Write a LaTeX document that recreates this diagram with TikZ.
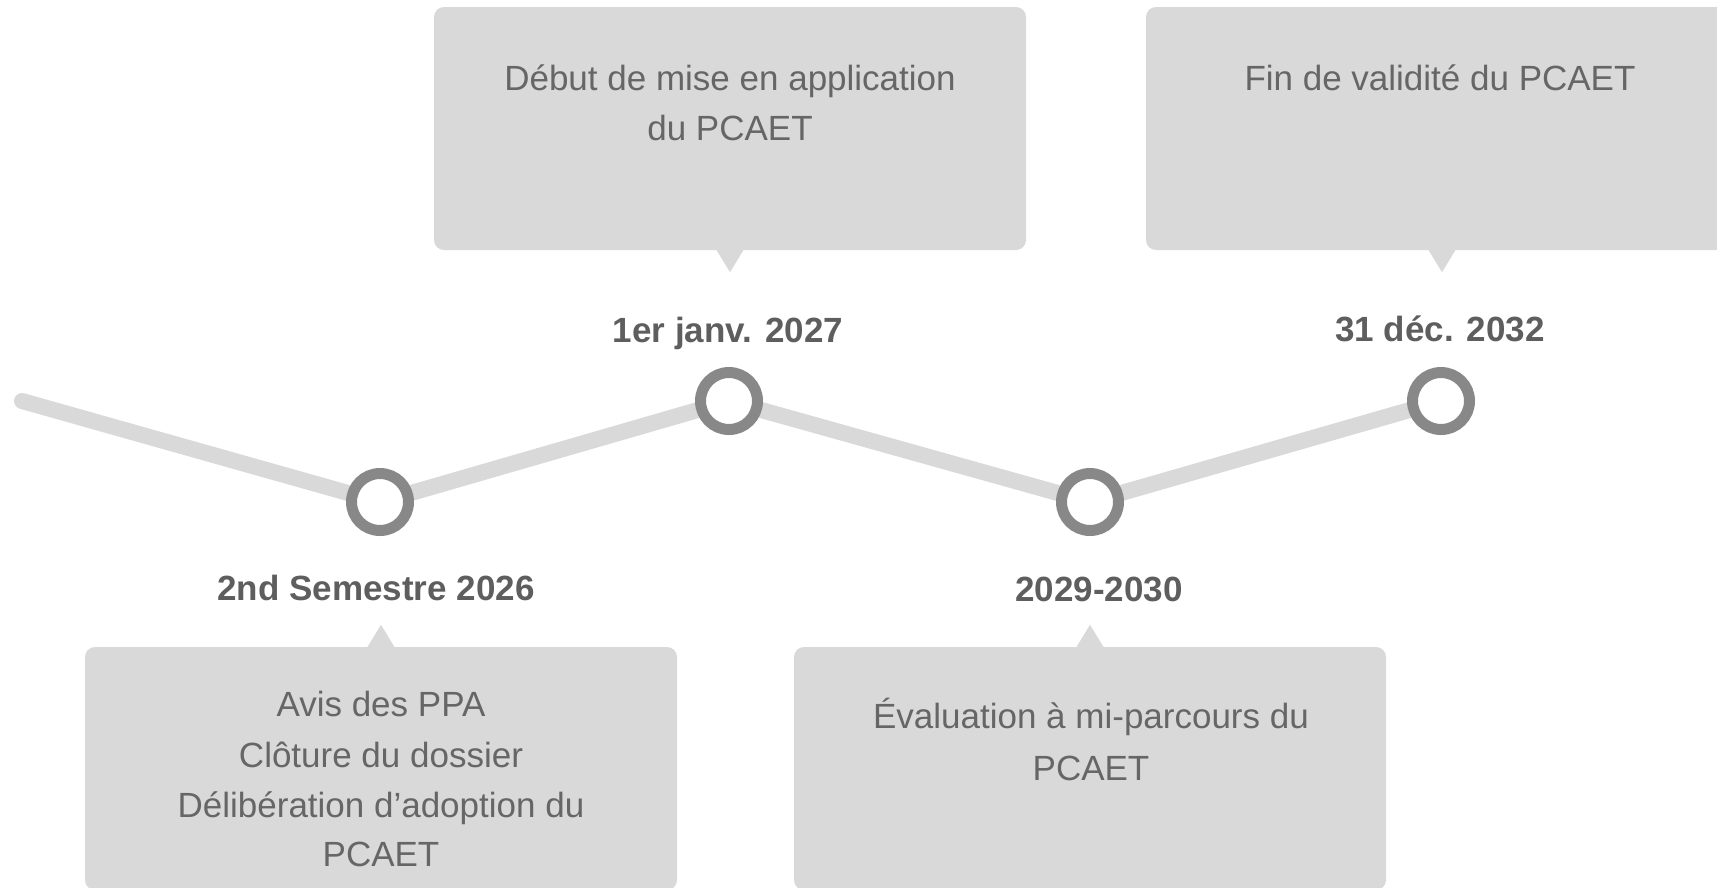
\documentclass[tikz,border=0pt]{standalone}
\usepackage{fontspec}
\setmainfont{Liberation Sans}
\usetikzlibrary{backgrounds}
\definecolor{boxgray}{HTML}{D9D9D9}
\definecolor{linegray}{HTML}{D9D9D9}
\definecolor{ringgray}{HTML}{888888}
\definecolor{txtgray}{HTML}{666666}
\definecolor{lblgray}{HTML}{5E5E5E}
\tikzset{
  box/.style={rectangle, rounded corners=10pt, fill=boxgray, inner sep=0pt, minimum width=592pt, minimum height=243pt},
  ptr/.style={fill=boxgray},
  ring/.style={circle, draw=ringgray, line width=11pt, fill=white, minimum size=57pt, inner sep=0pt},
  track/.style={draw=linegray, line width=16pt, line cap=round, line join=round},
  txt/.style={font=\fontsize{35pt}{50pt}\selectfont, text=txtgray, anchor=base, inner sep=0pt},
  lbl/.style={font=\fontsize{35pt}{42pt}\selectfont\bfseries, text=lblgray, anchor=base, inner sep=0pt}
}
\begin{document}
\begin{tikzpicture}[x=1pt,y=-1pt]
\useasboundingbox (0,0) rectangle (1717,887);
\clip (0,0) rectangle (1717,887);

% milestone rings
\coordinate (s) at (22,401);
\node[ring] (c1) at (380,502) {};
\node[ring] (c2) at (729,401) {};
\node[ring] (c3) at (1090,502) {};
\node[ring] (c4) at (1441,401) {};

\begin{scope}[on background layer]
\fill[white] (0,0) rectangle (1717,887);
\draw[track] (s) -- (c1.center) -- (c2.center) -- (c3.center) -- (c4.center);
\end{scope}

% boxes
\node[box] (b1) at (730,128.5) {};
\node[box] (b2) at (1442,128.5) {};
\node[box] (b3) at (381,768.5) {};
\node[box] (b4) at (1090,768.5) {};

\fill[ptr] ([xshift=-14pt,yshift=1pt]b1.south) -- ([xshift=14pt,yshift=1pt]b1.south) -- ([yshift=-22pt]b1.south) -- cycle;
\fill[ptr] ([xshift=-14pt,yshift=1pt]b2.south) -- ([xshift=14pt,yshift=1pt]b2.south) -- ([yshift=-22pt]b2.south) -- cycle;
\fill[ptr] ([xshift=-14pt,yshift=-1pt]b3.north) -- ([xshift=14pt,yshift=-1pt]b3.north) -- ([yshift=22pt]b3.north) -- cycle;
\fill[ptr] ([xshift=-14pt,yshift=-1pt]b4.north) -- ([xshift=14pt,yshift=-1pt]b4.north) -- ([yshift=22pt]b4.north) -- cycle;

% box texts
\node[txt] (t1a) at (730,90) {Début de mise en application};
\node[txt] (t1b) at (730,140) {du PCAET};
\node[txt] (t2a) at (1440,90) {Fin de validité du PCAET};
\node[txt] (t3a) at (381,716) {Avis des PPA};
\node[txt] (t3b) at (381,767) {Clôture du dossier};
\node[txt] (t3c) at (381,817) {Délibération d’adoption du};
\node[txt] (t3d) at (381,866) {PCAET};
\node[txt] (t4a) at (1091,728) {Évaluation à mi-parcours du};
\node[txt] (t4b) at (1091,780) {PCAET};

% date labels
\node[lbl] (l2) at (728,342) {1er janv. 2027};
\node[lbl] (l4) at (1440,341) {31 déc. 2032};
\node[lbl] (l1) at (376,600) {2nd Semestre 2026};
\node[lbl] (l3) at (1099,601) {2029-2030};
\end{tikzpicture}
\end{document}
